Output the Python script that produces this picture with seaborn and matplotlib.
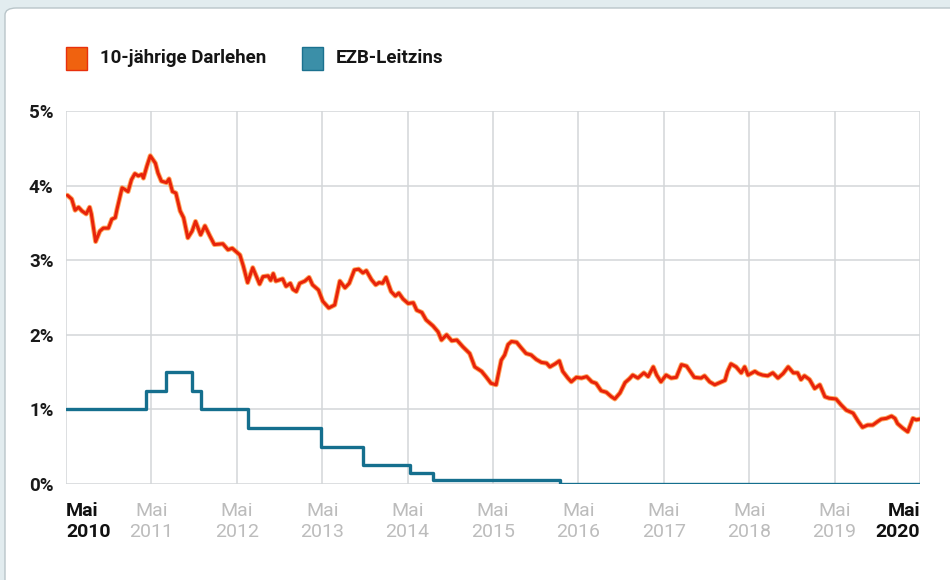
import matplotlib
matplotlib.use("Agg")
import matplotlib.pyplot as plt
import matplotlib.patheffects as pe
from matplotlib.patches import Rectangle, FancyBboxPatch
import seaborn as sns
import pandas as pd

# ---------------- data ----------------
# time in decimal years (May 2010 = 2010.33)
loan_t = [2010.35, 2010.40, 2010.44, 2010.48, 2010.52, 2010.57, 2010.61, 2010.63, 2010.68, 2010.73,
          2010.77, 2010.83, 2010.87, 2010.91, 2010.93, 2010.99, 2011.02, 2011.06, 2011.10, 2011.14,
          2011.18, 2011.22, 2011.24, 2011.28, 2011.32, 2011.38, 2011.41, 2011.45, 2011.51, 2011.54,
          2011.58, 2011.62, 2011.67, 2011.71, 2011.76, 2011.81, 2011.85, 2011.91, 2011.96, 2012.02,
          2012.07, 2012.17, 2012.23, 2012.28, 2012.37, 2012.41, 2012.46, 2012.52, 2012.60, 2012.64,
          2012.70, 2012.73, 2012.76, 2012.79, 2012.87, 2012.91, 2012.96, 2012.99, 2013.03, 2013.07,
          2013.13, 2013.18, 2013.22, 2013.29, 2013.34, 2013.41, 2013.48, 2013.54, 2013.60, 2013.65,
          2013.71, 2013.76, 2013.81, 2013.85, 2013.91, 2013.96, 2014.00, 2014.04, 2014.08, 2014.14,
          2014.19, 2014.23, 2014.28, 2014.34, 2014.40, 2014.44, 2014.50, 2014.55, 2014.63, 2014.69,
          2014.73, 2014.79, 2014.85, 2014.91, 2014.98, 2015.06, 2015.12, 2015.20, 2015.25, 2015.31,
          2015.37, 2015.43, 2015.47, 2015.51, 2015.55, 2015.61, 2015.66, 2015.72, 2015.78, 2015.84,
          2015.90, 2015.96, 2016.00, 2016.06, 2016.11, 2016.15, 2016.21, 2016.25, 2016.31, 2016.37,
          2016.43, 2016.49, 2016.54, 2016.60, 2016.66, 2016.72, 2016.76, 2016.82, 2016.88, 2016.93,
          2016.97, 2017.03, 2017.10, 2017.15, 2017.21, 2017.25, 2017.30, 2017.36, 2017.42, 2017.48,
          2017.54, 2017.60, 2017.66, 2017.69, 2017.77, 2017.81, 2017.87, 2017.93, 2017.99, 2018.05,
          2018.08, 2018.12, 2018.18, 2018.24, 2018.28, 2018.32, 2018.40, 2018.44, 2018.49, 2018.55,
          2018.61, 2018.67, 2018.73, 2018.79, 2018.85, 2018.90, 2018.94, 2018.98, 2019.04, 2019.10,
          2019.16, 2019.22, 2019.27, 2019.35, 2019.41, 2019.47, 2019.55, 2019.61, 2019.66, 2019.72,
          2019.78, 2019.84, 2019.88, 2019.94, 2020.00, 2020.04, 2020.07, 2020.13, 2020.19, 2020.25,
          2020.29, 2020.33]
loan_rate = [3.87, 3.82, 3.67, 3.71, 3.66, 3.62, 3.71, 3.62, 3.25, 3.39,
             3.43, 3.43, 3.55, 3.57, 3.68, 3.97, 3.95, 3.92, 4.08, 4.16,
             4.13, 4.15, 4.10, 4.26, 4.40, 4.30, 4.17, 4.06, 4.04, 4.09,
             3.92, 3.90, 3.66, 3.57, 3.30, 3.39, 3.52, 3.34, 3.46, 3.32,
             3.21, 3.22, 3.14, 3.16, 3.07, 2.92, 2.70, 2.90, 2.68, 2.78,
             2.79, 2.73, 2.82, 2.72, 2.75, 2.65, 2.69, 2.61, 2.58, 2.69,
             2.72, 2.77, 2.67, 2.60, 2.45, 2.36, 2.40, 2.72, 2.63, 2.69,
             2.87, 2.88, 2.83, 2.86, 2.74, 2.67, 2.70, 2.69, 2.77, 2.58,
             2.52, 2.56, 2.48, 2.42, 2.43, 2.33, 2.30, 2.20, 2.12, 2.04,
             1.93, 2.00, 1.92, 1.93, 1.84, 1.75, 1.57, 1.51, 1.44, 1.35,
             1.33, 1.66, 1.73, 1.87, 1.91, 1.90, 1.83, 1.75, 1.73, 1.67,
             1.63, 1.62, 1.57, 1.61, 1.65, 1.51, 1.42, 1.37, 1.43, 1.42,
             1.44, 1.37, 1.35, 1.25, 1.23, 1.17, 1.14, 1.22, 1.36, 1.41,
             1.46, 1.42, 1.49, 1.44, 1.57, 1.46, 1.37, 1.46, 1.42, 1.43,
             1.60, 1.58, 1.48, 1.43, 1.42, 1.45, 1.37, 1.33, 1.36, 1.39,
             1.51, 1.61, 1.57, 1.49, 1.57, 1.46, 1.51, 1.48, 1.46, 1.45,
             1.49, 1.42, 1.48, 1.57, 1.49, 1.49, 1.40, 1.45, 1.40, 1.28,
             1.33, 1.17, 1.15, 1.14, 1.06, 0.99, 0.95, 0.84, 0.76, 0.79,
             0.79, 0.84, 0.87, 0.88, 0.91, 0.88, 0.81, 0.75, 0.70, 0.88,
             0.86, 0.87]

ecb_t = [2010.33, 2011.27, 2011.50, 2011.81, 2011.91, 2012.46, 2013.32, 2013.81,
         2014.36, 2014.63, 2016.12, 2020.33]
ecb_rate = [1.00, 1.25, 1.50, 1.25, 1.00, 0.75, 0.50, 0.25, 0.15, 0.05, 0.00, 0.00]

tick_years = [2010, 2011, 2012, 2013, 2014, 2015, 2016, 2017, 2018, 2019, 2020]
tick_labels = [f"Mai\n{y}" for y in tick_years]
y_ticks = [0, 1, 2, 3, 4, 5]
y_labels = [f"{v}%" for v in y_ticks]
series_names = ["10-jährige Darlehen", "EZB-Leitzins"]

# ---------------- style ----------------
sns.set_style("white")
plt.rcParams["font.family"] = ["Roboto", "DejaVu Sans"]

RED = "#e8230a"
GLOW = "#ff8a2a"
BLUE = "#156f8e"
GRID = "#d3d6d8"

W, H = 950, 580
fig = plt.figure(figsize=(W / 100, H / 100), dpi=100)
fig.patch.set_facecolor("#e2ecef")
panel = FancyBboxPatch((5 / W, -0.05), 1.2, (H - 8) / H + 0.05,
                       boxstyle="round,pad=0,rounding_size=0.012",
                       transform=fig.transFigure, facecolor="white",
                       edgecolor="#b9c5c9", linewidth=1.0, zorder=-5)
fig.patches.append(panel)

ax = fig.add_axes([66 / W, 1 - 484 / H, (920 - 66) / W, (484 - 111) / H], zorder=2)
ax.set_facecolor("none")

df_loan = pd.DataFrame({"t": loan_t, "rate": loan_rate})
df_ecb = pd.DataFrame({"t": ecb_t, "rate": ecb_rate})

sns.lineplot(data=df_ecb, x="t", y="rate", ax=ax, color=BLUE, linewidth=2.4,
             drawstyle="steps-post", zorder=3)
sns.lineplot(data=df_loan, x="t", y="rate", ax=ax, color=RED, linewidth=2.2, zorder=4)
ax.lines[-1].set_path_effects([pe.Stroke(linewidth=3.6, foreground=GLOW, alpha=0.75), pe.Normal()])

x0 = tick_years[0] + 4 / 12
xt = [y + 4 / 12 for y in tick_years]
ax.set_xlim(x0, tick_years[-1] + 4 / 12)
ax.set_ylim(0, 5)

ax.set_xticks(xt)
ax.set_xticklabels(tick_labels)
ax.set_yticks(y_ticks)
ax.set_yticklabels(y_labels)
ax.set_xlabel("")
ax.set_ylabel("")

ax.grid(True, color=GRID, linewidth=1.1, zorder=0)
ax.set_axisbelow(True)
for s in ax.spines.values():
    s.set_visible(False)
ax.tick_params(axis="both", length=0)
ax.tick_params(axis="x", pad=13)
ax.tick_params(axis="y", pad=9)

for lab in ax.get_yticklabels():
    lab.set_fontsize(13.5)
    lab.set_color("#1a1a1a")
    lab.set_fontweight("bold")

xlabs = ax.get_xticklabels()
for i, lab in enumerate(xlabs):
    lab.set_fontsize(14)
    lab.set_linespacing(1.2)
    lab.set_verticalalignment("top")
    if i == 0 or i == len(xlabs) - 1:
        lab.set_color("#111111")
        lab.set_fontweight("bold")
        lab.set_horizontalalignment("left" if i == 0 else "right")
    else:
        lab.set_color("#bcbcbc")
        lab.set_horizontalalignment("center")

# legend (custom)
def fx(px):
    return px / W

def fy(py):
    return 1 - py / H

leg_items = [(66, 100, "#f0620f", "#e8300c", series_names[0]),
             (302, 336, "#3b8fa8", "#1b718f", series_names[1])]
for sx, tx, fc, ec, name in leg_items:
    fig.patches.append(Rectangle((fx(sx), fy(70)), fx(21), 23 / H, transform=fig.transFigure,
                                 facecolor=fc, edgecolor=ec, linewidth=1.0, zorder=5))
    fig.text(fx(tx), fy(58), name, fontsize=13.5, fontweight="bold", color="#151515",
             va="center", ha="left")

fig.savefig("out.png", dpi=100, facecolor=fig.get_facecolor())
